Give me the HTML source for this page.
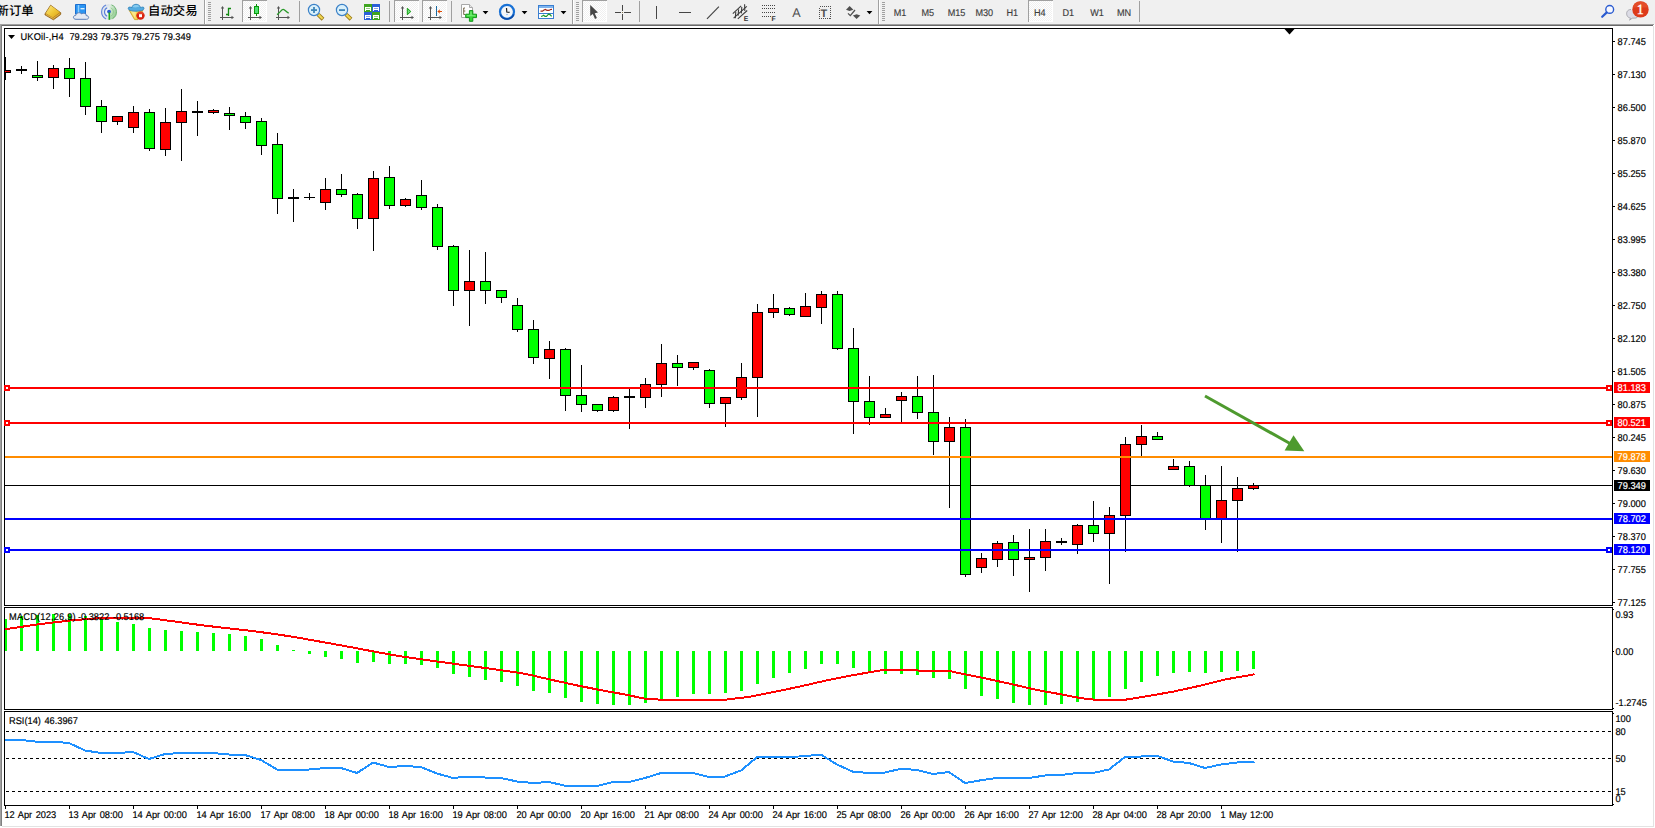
<!DOCTYPE html>
<html lang="zh"><head><meta charset="utf-8"><title>UKOil-,H4</title>
<style>html,body{margin:0;padding:0;background:#fff;overflow:hidden}body{width:1655px;height:828px;position:relative;font-family:"Liberation Sans","Noto Sans CJK SC",sans-serif}svg{position:absolute;left:0;top:0;display:block}text{font-family:"Liberation Sans","Noto Sans CJK SC",sans-serif;text-rendering:geometricPrecision}.t{font-size:9.8px;fill:#000;stroke:#000;stroke-width:.18px;word-spacing:1px}.w{font-size:9.8px;fill:#fff;stroke:#fff;stroke-width:.18px}.tf{font-size:9.8px;fill:#3c3c3c;stroke:#3c3c3c;stroke-width:.15px}.cj{font-size:12.4px;fill:#000;font-weight:500}</style>
</head><body>
<svg width="1655" height="828" viewBox="0 0 1655 828">
<rect x="0" y="0" width="1655" height="828" fill="#fff"/>
<g shape-rendering="crispEdges">
<rect x="0" y="0" width="1655" height="24" fill="#f0f0f0"/>
<rect x="0" y="24" width="1654" height="1" fill="#a0a0a0"/>
<rect x="0" y="25" width="1653" height="1" fill="#696969"/>
<rect x="0" y="24" width="1" height="802" fill="#a0a0a0"/>
<rect x="1" y="25" width="1" height="801" fill="#808080"/>
<rect x="1653" y="26" width="1" height="800" fill="#e3e3e3"/>
<rect x="2" y="826" width="1652" height="1" fill="#e3e3e3"/>
<rect x="4.5" y="28.5" width="1608" height="577" fill="none" stroke="#000" stroke-width="1"/>
<rect x="4.5" y="607.5" width="1608" height="102" fill="none" stroke="#000" stroke-width="1"/>
<rect x="4.5" y="711.5" width="1608" height="94" fill="none" stroke="#000" stroke-width="1"/>
<rect x="5" y="485" width="1607" height="1" fill="#000"/>
</g>
<g shape-rendering="crispEdges">
<rect x="5" y="57" width="1" height="23" fill="#000"/>
<rect x="5" y="70" width="6" height="3" fill="#000"/>
<rect x="5" y="71" width="5" height="1" fill="#ff0000"/>
<rect x="21" y="66" width="1" height="8" fill="#000"/>
<rect x="16" y="69" width="11" height="2" fill="#000"/>
<rect x="37" y="61" width="1" height="20" fill="#000"/>
<rect x="32" y="75" width="11" height="3" fill="#000"/>
<rect x="33" y="76" width="9" height="1" fill="#00ff00"/>
<rect x="53" y="65" width="1" height="24" fill="#000"/>
<rect x="48" y="68" width="11" height="10" fill="#000"/>
<rect x="49" y="69" width="9" height="8" fill="#ff0000"/>
<rect x="69" y="58" width="1" height="39" fill="#000"/>
<rect x="64" y="68" width="11" height="11" fill="#000"/>
<rect x="65" y="69" width="9" height="9" fill="#00ff00"/>
<rect x="85" y="62" width="1" height="53" fill="#000"/>
<rect x="80" y="78" width="11" height="29" fill="#000"/>
<rect x="81" y="79" width="9" height="27" fill="#00ff00"/>
<rect x="101" y="100" width="1" height="33" fill="#000"/>
<rect x="96" y="106" width="11" height="16" fill="#000"/>
<rect x="97" y="107" width="9" height="14" fill="#00ff00"/>
<rect x="117" y="116" width="1" height="9" fill="#000"/>
<rect x="112" y="116" width="11" height="6" fill="#000"/>
<rect x="113" y="117" width="9" height="4" fill="#ff0000"/>
<rect x="133" y="106" width="1" height="27" fill="#000"/>
<rect x="128" y="112" width="11" height="16" fill="#000"/>
<rect x="129" y="113" width="9" height="14" fill="#ff0000"/>
<rect x="149" y="109" width="1" height="42" fill="#000"/>
<rect x="144" y="112" width="11" height="37" fill="#000"/>
<rect x="145" y="113" width="9" height="35" fill="#00ff00"/>
<rect x="165" y="108" width="1" height="48" fill="#000"/>
<rect x="160" y="122" width="11" height="28" fill="#000"/>
<rect x="161" y="123" width="9" height="26" fill="#ff0000"/>
<rect x="181" y="89" width="1" height="72" fill="#000"/>
<rect x="176" y="111" width="11" height="12" fill="#000"/>
<rect x="177" y="112" width="9" height="10" fill="#ff0000"/>
<rect x="197" y="101" width="1" height="35" fill="#000"/>
<rect x="192" y="111" width="11" height="2" fill="#000"/>
<rect x="213" y="109" width="1" height="5" fill="#000"/>
<rect x="208" y="110" width="11" height="3" fill="#000"/>
<rect x="209" y="111" width="9" height="1" fill="#ff0000"/>
<rect x="229" y="107" width="1" height="23" fill="#000"/>
<rect x="224" y="113" width="11" height="3" fill="#000"/>
<rect x="225" y="114" width="9" height="1" fill="#00ff00"/>
<rect x="245" y="112" width="1" height="17" fill="#000"/>
<rect x="240" y="116" width="11" height="7" fill="#000"/>
<rect x="241" y="117" width="9" height="5" fill="#00ff00"/>
<rect x="261" y="118" width="1" height="37" fill="#000"/>
<rect x="256" y="121" width="11" height="25" fill="#000"/>
<rect x="257" y="122" width="9" height="23" fill="#00ff00"/>
<rect x="277" y="133" width="1" height="81" fill="#000"/>
<rect x="272" y="144" width="11" height="55" fill="#000"/>
<rect x="273" y="145" width="9" height="53" fill="#00ff00"/>
<rect x="293" y="189" width="1" height="33" fill="#000"/>
<rect x="288" y="197" width="11" height="2" fill="#000"/>
<rect x="309" y="193" width="1" height="7" fill="#000"/>
<rect x="304" y="197" width="11" height="1" fill="#000"/>
<rect x="325" y="178" width="1" height="32" fill="#000"/>
<rect x="320" y="189" width="11" height="14" fill="#000"/>
<rect x="321" y="190" width="9" height="12" fill="#ff0000"/>
<rect x="341" y="174" width="1" height="23" fill="#000"/>
<rect x="336" y="189" width="11" height="6" fill="#000"/>
<rect x="337" y="190" width="9" height="4" fill="#00ff00"/>
<rect x="357" y="193" width="1" height="36" fill="#000"/>
<rect x="352" y="194" width="11" height="25" fill="#000"/>
<rect x="353" y="195" width="9" height="23" fill="#00ff00"/>
<rect x="373" y="171" width="1" height="80" fill="#000"/>
<rect x="368" y="178" width="11" height="41" fill="#000"/>
<rect x="369" y="179" width="9" height="39" fill="#ff0000"/>
<rect x="389" y="166" width="1" height="43" fill="#000"/>
<rect x="384" y="177" width="11" height="29" fill="#000"/>
<rect x="385" y="178" width="9" height="27" fill="#00ff00"/>
<rect x="405" y="198" width="1" height="9" fill="#000"/>
<rect x="400" y="199" width="11" height="7" fill="#000"/>
<rect x="401" y="200" width="9" height="5" fill="#ff0000"/>
<rect x="421" y="180" width="1" height="30" fill="#000"/>
<rect x="416" y="195" width="11" height="13" fill="#000"/>
<rect x="417" y="196" width="9" height="11" fill="#00ff00"/>
<rect x="437" y="204" width="1" height="46" fill="#000"/>
<rect x="432" y="207" width="11" height="40" fill="#000"/>
<rect x="433" y="208" width="9" height="38" fill="#00ff00"/>
<rect x="453" y="245" width="1" height="61" fill="#000"/>
<rect x="448" y="246" width="11" height="45" fill="#000"/>
<rect x="449" y="247" width="9" height="43" fill="#00ff00"/>
<rect x="469" y="250" width="1" height="76" fill="#000"/>
<rect x="464" y="281" width="11" height="10" fill="#000"/>
<rect x="465" y="282" width="9" height="8" fill="#ff0000"/>
<rect x="485" y="252" width="1" height="52" fill="#000"/>
<rect x="480" y="281" width="11" height="10" fill="#000"/>
<rect x="481" y="282" width="9" height="8" fill="#00ff00"/>
<rect x="501" y="290" width="1" height="13" fill="#000"/>
<rect x="496" y="290" width="11" height="8" fill="#000"/>
<rect x="497" y="291" width="9" height="6" fill="#00ff00"/>
<rect x="517" y="298" width="1" height="34" fill="#000"/>
<rect x="512" y="305" width="11" height="25" fill="#000"/>
<rect x="513" y="306" width="9" height="23" fill="#00ff00"/>
<rect x="533" y="320" width="1" height="44" fill="#000"/>
<rect x="528" y="329" width="11" height="29" fill="#000"/>
<rect x="529" y="330" width="9" height="27" fill="#00ff00"/>
<rect x="549" y="341" width="1" height="38" fill="#000"/>
<rect x="544" y="349" width="11" height="10" fill="#000"/>
<rect x="545" y="350" width="9" height="8" fill="#ff0000"/>
<rect x="565" y="348" width="1" height="63" fill="#000"/>
<rect x="560" y="349" width="11" height="47" fill="#000"/>
<rect x="561" y="350" width="9" height="45" fill="#00ff00"/>
<rect x="581" y="365" width="1" height="47" fill="#000"/>
<rect x="576" y="395" width="11" height="10" fill="#000"/>
<rect x="577" y="396" width="9" height="8" fill="#00ff00"/>
<rect x="597" y="404" width="1" height="8" fill="#000"/>
<rect x="592" y="404" width="11" height="7" fill="#000"/>
<rect x="593" y="405" width="9" height="5" fill="#00ff00"/>
<rect x="613" y="396" width="1" height="16" fill="#000"/>
<rect x="608" y="397" width="11" height="14" fill="#000"/>
<rect x="609" y="398" width="9" height="12" fill="#ff0000"/>
<rect x="629" y="389" width="1" height="40" fill="#000"/>
<rect x="624" y="396" width="11" height="2" fill="#000"/>
<rect x="645" y="378" width="1" height="30" fill="#000"/>
<rect x="640" y="384" width="11" height="14" fill="#000"/>
<rect x="641" y="385" width="9" height="12" fill="#ff0000"/>
<rect x="661" y="344" width="1" height="53" fill="#000"/>
<rect x="656" y="363" width="11" height="22" fill="#000"/>
<rect x="657" y="364" width="9" height="20" fill="#ff0000"/>
<rect x="677" y="355" width="1" height="31" fill="#000"/>
<rect x="672" y="363" width="11" height="5" fill="#000"/>
<rect x="673" y="364" width="9" height="3" fill="#00ff00"/>
<rect x="693" y="362" width="1" height="8" fill="#000"/>
<rect x="688" y="362" width="11" height="6" fill="#000"/>
<rect x="689" y="363" width="9" height="4" fill="#ff0000"/>
<rect x="709" y="369" width="1" height="39" fill="#000"/>
<rect x="704" y="370" width="11" height="34" fill="#000"/>
<rect x="705" y="371" width="9" height="32" fill="#00ff00"/>
<rect x="725" y="397" width="1" height="30" fill="#000"/>
<rect x="720" y="397" width="11" height="7" fill="#000"/>
<rect x="721" y="398" width="9" height="5" fill="#ff0000"/>
<rect x="741" y="363" width="1" height="37" fill="#000"/>
<rect x="736" y="377" width="11" height="21" fill="#000"/>
<rect x="737" y="378" width="9" height="19" fill="#ff0000"/>
<rect x="757" y="304" width="1" height="113" fill="#000"/>
<rect x="752" y="312" width="11" height="66" fill="#000"/>
<rect x="753" y="313" width="9" height="64" fill="#ff0000"/>
<rect x="773" y="294" width="1" height="24" fill="#000"/>
<rect x="768" y="308" width="11" height="5" fill="#000"/>
<rect x="769" y="309" width="9" height="3" fill="#ff0000"/>
<rect x="789" y="307" width="1" height="9" fill="#000"/>
<rect x="784" y="308" width="11" height="7" fill="#000"/>
<rect x="785" y="309" width="9" height="5" fill="#00ff00"/>
<rect x="805" y="293" width="1" height="24" fill="#000"/>
<rect x="800" y="306" width="11" height="11" fill="#000"/>
<rect x="801" y="307" width="9" height="9" fill="#ff0000"/>
<rect x="821" y="291" width="1" height="33" fill="#000"/>
<rect x="816" y="294" width="11" height="14" fill="#000"/>
<rect x="817" y="295" width="9" height="12" fill="#ff0000"/>
<rect x="837" y="291" width="1" height="59" fill="#000"/>
<rect x="832" y="294" width="11" height="55" fill="#000"/>
<rect x="833" y="295" width="9" height="53" fill="#00ff00"/>
<rect x="853" y="328" width="1" height="106" fill="#000"/>
<rect x="848" y="348" width="11" height="54" fill="#000"/>
<rect x="849" y="349" width="9" height="52" fill="#00ff00"/>
<rect x="869" y="376" width="1" height="49" fill="#000"/>
<rect x="864" y="401" width="11" height="17" fill="#000"/>
<rect x="865" y="402" width="9" height="15" fill="#00ff00"/>
<rect x="885" y="408" width="1" height="10" fill="#000"/>
<rect x="880" y="414" width="11" height="4" fill="#000"/>
<rect x="881" y="415" width="9" height="2" fill="#ff0000"/>
<rect x="901" y="392" width="1" height="30" fill="#000"/>
<rect x="896" y="396" width="11" height="5" fill="#000"/>
<rect x="897" y="397" width="9" height="3" fill="#ff0000"/>
<rect x="917" y="376" width="1" height="43" fill="#000"/>
<rect x="912" y="396" width="11" height="17" fill="#000"/>
<rect x="913" y="397" width="9" height="15" fill="#00ff00"/>
<rect x="933" y="375" width="1" height="80" fill="#000"/>
<rect x="928" y="412" width="11" height="30" fill="#000"/>
<rect x="929" y="413" width="9" height="28" fill="#00ff00"/>
<rect x="949" y="417" width="1" height="91" fill="#000"/>
<rect x="944" y="427" width="11" height="15" fill="#000"/>
<rect x="945" y="428" width="9" height="13" fill="#ff0000"/>
<rect x="965" y="419" width="1" height="158" fill="#000"/>
<rect x="960" y="427" width="11" height="148" fill="#000"/>
<rect x="961" y="428" width="9" height="146" fill="#00ff00"/>
<rect x="981" y="553" width="1" height="20" fill="#000"/>
<rect x="976" y="558" width="11" height="10" fill="#000"/>
<rect x="977" y="559" width="9" height="8" fill="#ff0000"/>
<rect x="997" y="541" width="1" height="26" fill="#000"/>
<rect x="992" y="543" width="11" height="17" fill="#000"/>
<rect x="993" y="544" width="9" height="15" fill="#ff0000"/>
<rect x="1013" y="535" width="1" height="41" fill="#000"/>
<rect x="1008" y="542" width="11" height="18" fill="#000"/>
<rect x="1009" y="543" width="9" height="16" fill="#00ff00"/>
<rect x="1029" y="529" width="1" height="63" fill="#000"/>
<rect x="1024" y="557" width="11" height="3" fill="#000"/>
<rect x="1025" y="558" width="9" height="1" fill="#ff0000"/>
<rect x="1045" y="529" width="1" height="42" fill="#000"/>
<rect x="1040" y="541" width="11" height="17" fill="#000"/>
<rect x="1041" y="542" width="9" height="15" fill="#ff0000"/>
<rect x="1061" y="538" width="1" height="7" fill="#000"/>
<rect x="1056" y="541" width="11" height="2" fill="#000"/>
<rect x="1077" y="524" width="1" height="30" fill="#000"/>
<rect x="1072" y="525" width="11" height="20" fill="#000"/>
<rect x="1073" y="526" width="9" height="18" fill="#ff0000"/>
<rect x="1093" y="501" width="1" height="41" fill="#000"/>
<rect x="1088" y="525" width="11" height="9" fill="#000"/>
<rect x="1089" y="526" width="9" height="7" fill="#00ff00"/>
<rect x="1109" y="507" width="1" height="77" fill="#000"/>
<rect x="1104" y="515" width="11" height="19" fill="#000"/>
<rect x="1105" y="516" width="9" height="17" fill="#ff0000"/>
<rect x="1125" y="437" width="1" height="115" fill="#000"/>
<rect x="1120" y="444" width="11" height="72" fill="#000"/>
<rect x="1121" y="445" width="9" height="70" fill="#ff0000"/>
<rect x="1141" y="425" width="1" height="31" fill="#000"/>
<rect x="1136" y="436" width="11" height="9" fill="#000"/>
<rect x="1137" y="437" width="9" height="7" fill="#ff0000"/>
<rect x="1157" y="432" width="1" height="8" fill="#000"/>
<rect x="1152" y="436" width="11" height="4" fill="#000"/>
<rect x="1153" y="437" width="9" height="2" fill="#00ff00"/>
<rect x="1173" y="459" width="1" height="11" fill="#000"/>
<rect x="1168" y="466" width="11" height="4" fill="#000"/>
<rect x="1169" y="467" width="9" height="2" fill="#ff0000"/>
<rect x="1189" y="461" width="1" height="26" fill="#000"/>
<rect x="1184" y="466" width="11" height="20" fill="#000"/>
<rect x="1185" y="467" width="9" height="18" fill="#00ff00"/>
<rect x="1205" y="475" width="1" height="55" fill="#000"/>
<rect x="1200" y="485" width="11" height="34" fill="#000"/>
<rect x="1201" y="486" width="9" height="32" fill="#00ff00"/>
<rect x="1221" y="466" width="1" height="77" fill="#000"/>
<rect x="1216" y="500" width="11" height="19" fill="#000"/>
<rect x="1217" y="501" width="9" height="17" fill="#ff0000"/>
<rect x="1237" y="477" width="1" height="75" fill="#000"/>
<rect x="1232" y="488" width="11" height="13" fill="#000"/>
<rect x="1233" y="489" width="9" height="11" fill="#ff0000"/>
<rect x="1253" y="483" width="1" height="7" fill="#000"/>
<rect x="1248" y="485" width="11" height="4" fill="#000"/>
<rect x="1249" y="486" width="9" height="2" fill="#ff0000"/>
</g>
<g shape-rendering="crispEdges">
<rect x="5" y="387" width="1607" height="2" fill="#ff0000"/>
<rect x="4" y="385" width="6" height="6" fill="#ff0000"/><rect x="6" y="387" width="2" height="2" fill="#fff"/>
<rect x="1606" y="385" width="6" height="6" fill="#ff0000"/><rect x="1608" y="387" width="2" height="2" fill="#fff"/>
<rect x="5" y="422" width="1607" height="2" fill="#ff0000"/>
<rect x="4" y="420" width="6" height="6" fill="#ff0000"/><rect x="6" y="422" width="2" height="2" fill="#fff"/>
<rect x="1606" y="420" width="6" height="6" fill="#ff0000"/><rect x="1608" y="422" width="2" height="2" fill="#fff"/>
<rect x="5" y="456" width="1607" height="2" fill="#ff8c00"/>
<rect x="5" y="518" width="1607" height="2" fill="#0000ff"/>
<rect x="5" y="549" width="1607" height="2" fill="#0000ff"/>
<rect x="4" y="547" width="6" height="6" fill="#0000ff"/><rect x="6" y="549" width="2" height="2" fill="#fff"/>
<rect x="1606" y="547" width="6" height="6" fill="#0000ff"/><rect x="1608" y="549" width="2" height="2" fill="#fff"/>
</g>
<line x1="1205" y1="396" x2="1290" y2="443.5" stroke="#4e9a2e" stroke-width="3"/>
<polygon points="1293.5,435.3 1284.6,450.5 1304.3,451.2" fill="#4e9a2e"/>
<polygon points="1284.5,29 1294.5,29 1289.5,34.5" fill="#000"/>
<g shape-rendering="crispEdges">
<rect x="1613" y="41" width="2" height="1" fill="#000"/>
<rect x="1613" y="74" width="2" height="1" fill="#000"/>
<rect x="1613" y="107" width="2" height="1" fill="#000"/>
<rect x="1613" y="140" width="2" height="1" fill="#000"/>
<rect x="1613" y="173" width="2" height="1" fill="#000"/>
<rect x="1613" y="206" width="2" height="1" fill="#000"/>
<rect x="1613" y="239" width="2" height="1" fill="#000"/>
<rect x="1613" y="272" width="2" height="1" fill="#000"/>
<rect x="1613" y="305" width="2" height="1" fill="#000"/>
<rect x="1613" y="338" width="2" height="1" fill="#000"/>
<rect x="1613" y="371" width="2" height="1" fill="#000"/>
<rect x="1613" y="404" width="2" height="1" fill="#000"/>
<rect x="1613" y="437" width="2" height="1" fill="#000"/>
<rect x="1613" y="470" width="2" height="1" fill="#000"/>
<rect x="1613" y="503" width="2" height="1" fill="#000"/>
<rect x="1613" y="536" width="2" height="1" fill="#000"/>
<rect x="1613" y="569" width="2" height="1" fill="#000"/>
<rect x="1613" y="602" width="2" height="1" fill="#000"/>
<rect x="1613" y="609" width="1" height="1" fill="#000"/>
<rect x="1613" y="651" width="1" height="1" fill="#000"/>
<rect x="1613" y="708" width="1" height="1" fill="#000"/>
<rect x="1613" y="713" width="1" height="1" fill="#000"/>
<rect x="1613" y="804" width="1" height="1" fill="#000"/>
</g>
<text class="t" transform="translate(1617.6 44.9) scale(0.945 1)">87.745</text>
<text class="t" transform="translate(1617.6 77.9) scale(0.945 1)">87.130</text>
<text class="t" transform="translate(1617.6 110.9) scale(0.945 1)">86.500</text>
<text class="t" transform="translate(1617.6 143.9) scale(0.945 1)">85.870</text>
<text class="t" transform="translate(1617.6 176.9) scale(0.945 1)">85.255</text>
<text class="t" transform="translate(1617.6 209.9) scale(0.945 1)">84.625</text>
<text class="t" transform="translate(1617.6 242.9) scale(0.945 1)">83.995</text>
<text class="t" transform="translate(1617.6 275.9) scale(0.945 1)">83.380</text>
<text class="t" transform="translate(1617.6 308.9) scale(0.945 1)">82.750</text>
<text class="t" transform="translate(1617.6 341.9) scale(0.945 1)">82.120</text>
<text class="t" transform="translate(1617.6 374.9) scale(0.945 1)">81.505</text>
<text class="t" transform="translate(1617.6 407.9) scale(0.945 1)">80.875</text>
<text class="t" transform="translate(1617.6 440.9) scale(0.945 1)">80.245</text>
<text class="t" transform="translate(1617.6 473.9) scale(0.945 1)">79.630</text>
<text class="t" transform="translate(1617.6 506.9) scale(0.945 1)">79.000</text>
<text class="t" transform="translate(1617.6 539.9) scale(0.945 1)">78.370</text>
<text class="t" transform="translate(1617.6 572.9) scale(0.945 1)">77.755</text>
<text class="t" transform="translate(1617.6 605.9) scale(0.945 1)">77.125</text>
<rect x="1614" y="382" width="36" height="11" fill="#ff0000" shape-rendering="crispEdges"/>
<text class="w" transform="translate(1617.6 390.9) scale(0.945 1)">81.183</text>
<rect x="1614" y="417" width="36" height="11" fill="#ff0000" shape-rendering="crispEdges"/>
<text class="w" transform="translate(1617.6 425.9) scale(0.945 1)">80.521</text>
<rect x="1614" y="451" width="36" height="11" fill="#ff8c00" shape-rendering="crispEdges"/>
<text class="w" transform="translate(1617.6 459.9) scale(0.945 1)">79.878</text>
<rect x="1614" y="480" width="36" height="11" fill="#000000" shape-rendering="crispEdges"/>
<text class="w" transform="translate(1617.6 488.9) scale(0.945 1)">79.349</text>
<rect x="1614" y="513" width="36" height="11" fill="#0000ff" shape-rendering="crispEdges"/>
<text class="w" transform="translate(1617.6 521.9) scale(0.945 1)">78.702</text>
<rect x="1614" y="544" width="36" height="11" fill="#0000ff" shape-rendering="crispEdges"/>
<text class="w" transform="translate(1617.6 552.9) scale(0.945 1)">78.120</text>
<text class="t" transform="translate(1615.4 618) scale(0.945 1)">0.93</text>
<text class="t" transform="translate(1615.4 655) scale(0.945 1)">0.00</text>
<text class="t" transform="translate(1615.4 706) scale(0.945 1)">-1.2745</text>
<text class="t" transform="translate(1615.4 722) scale(0.945 1)">100</text>
<text class="t" transform="translate(1615.4 735) scale(0.945 1)">80</text>
<text class="t" transform="translate(1615.4 762) scale(0.945 1)">50</text>
<text class="t" transform="translate(1615.4 795) scale(0.945 1)">15</text>
<text class="t" transform="translate(1615.4 802) scale(0.945 1)">0</text>
<g shape-rendering="crispEdges" fill="#00ff00">
<rect x="5" y="619" width="2" height="32"/>
<rect x="20" y="616" width="3" height="35"/>
<rect x="36" y="615" width="3" height="36"/>
<rect x="52" y="614" width="3" height="37"/>
<rect x="68" y="614" width="3" height="37"/>
<rect x="84" y="616" width="3" height="35"/>
<rect x="100" y="619" width="3" height="32"/>
<rect x="116" y="622" width="3" height="29"/>
<rect x="132" y="624" width="3" height="27"/>
<rect x="148" y="628" width="3" height="23"/>
<rect x="164" y="630" width="3" height="21"/>
<rect x="180" y="631" width="3" height="20"/>
<rect x="196" y="632" width="3" height="19"/>
<rect x="212" y="633" width="3" height="18"/>
<rect x="228" y="634" width="3" height="17"/>
<rect x="244" y="636" width="3" height="15"/>
<rect x="260" y="639" width="3" height="12"/>
<rect x="276" y="645" width="3" height="6"/>
<rect x="292" y="650" width="3" height="1"/>
<rect x="308" y="651" width="3" height="3"/>
<rect x="324" y="651" width="3" height="6"/>
<rect x="340" y="651" width="3" height="8"/>
<rect x="356" y="651" width="3" height="12"/>
<rect x="372" y="651" width="3" height="11"/>
<rect x="388" y="651" width="3" height="13"/>
<rect x="404" y="651" width="3" height="13"/>
<rect x="420" y="651" width="3" height="14"/>
<rect x="436" y="651" width="3" height="17"/>
<rect x="452" y="651" width="3" height="23"/>
<rect x="468" y="651" width="3" height="26"/>
<rect x="484" y="651" width="3" height="29"/>
<rect x="500" y="651" width="3" height="31"/>
<rect x="516" y="651" width="3" height="35"/>
<rect x="532" y="651" width="3" height="40"/>
<rect x="548" y="651" width="3" height="42"/>
<rect x="564" y="651" width="3" height="47"/>
<rect x="580" y="651" width="3" height="51"/>
<rect x="596" y="651" width="3" height="53"/>
<rect x="612" y="651" width="3" height="54"/>
<rect x="628" y="651" width="3" height="54"/>
<rect x="644" y="651" width="3" height="52"/>
<rect x="660" y="651" width="3" height="49"/>
<rect x="676" y="651" width="3" height="46"/>
<rect x="692" y="651" width="3" height="43"/>
<rect x="708" y="651" width="3" height="43"/>
<rect x="724" y="651" width="3" height="42"/>
<rect x="740" y="651" width="3" height="40"/>
<rect x="756" y="651" width="3" height="33"/>
<rect x="772" y="651" width="3" height="27"/>
<rect x="788" y="651" width="3" height="22"/>
<rect x="804" y="651" width="3" height="18"/>
<rect x="820" y="651" width="3" height="13"/>
<rect x="836" y="651" width="3" height="13"/>
<rect x="852" y="651" width="3" height="17"/>
<rect x="868" y="651" width="3" height="20"/>
<rect x="884" y="651" width="3" height="23"/>
<rect x="900" y="651" width="3" height="23"/>
<rect x="916" y="651" width="3" height="24"/>
<rect x="932" y="651" width="3" height="27"/>
<rect x="948" y="651" width="3" height="28"/>
<rect x="964" y="651" width="3" height="38"/>
<rect x="980" y="651" width="3" height="45"/>
<rect x="996" y="651" width="3" height="48"/>
<rect x="1012" y="651" width="3" height="52"/>
<rect x="1028" y="651" width="3" height="54"/>
<rect x="1044" y="651" width="3" height="54"/>
<rect x="1060" y="651" width="3" height="53"/>
<rect x="1076" y="651" width="3" height="51"/>
<rect x="1092" y="651" width="3" height="49"/>
<rect x="1108" y="651" width="3" height="46"/>
<rect x="1124" y="651" width="3" height="38"/>
<rect x="1140" y="651" width="3" height="31"/>
<rect x="1156" y="651" width="3" height="25"/>
<rect x="1172" y="651" width="3" height="22"/>
<rect x="1188" y="651" width="3" height="21"/>
<rect x="1204" y="651" width="3" height="22"/>
<rect x="1220" y="651" width="3" height="21"/>
<rect x="1236" y="651" width="3" height="20"/>
<rect x="1252" y="651" width="3" height="18"/>
</g>
<polyline shape-rendering="crispEdges" fill="none" stroke="#ff0000" stroke-width="2" stroke-linejoin="round" points="5,629.25 37,624.5 70,620.5 100,618.1 112,617.6 138,617.6 148,618 175,621.5 200,625 225,628 250,630.75 275,634 300,638 325,642.5 350,647 375,651.75 400,656.25 412,658 450,663.25 500,670 525,673.75 550,679.5 575,685 600,690 625,694.5 645,698.75 662,699.75 725,699.75 750,696.75 775,691.75 800,686.5 825,680.75 850,675.75 875,671.25 887,669.6 915,669.6 918,670.5 947,670.5 962,673.75 987,678.75 1012,684.25 1037,690 1062,694.5 1080,698 1095,699.75 1125,699.75 1150,695.75 1175,691.25 1200,685.75 1225,679.5 1254.5,674.3"/>
<g shape-rendering="crispEdges" stroke="#000" stroke-width="1" stroke-dasharray="3 3">
<line x1="6" y1="731.5" x2="1611" y2="731.5"/>
<line x1="6" y1="758.5" x2="1611" y2="758.5"/>
<line x1="6" y1="791.5" x2="1611" y2="791.5"/>
</g>
<polyline shape-rendering="crispEdges" fill="none" stroke="#1e90ff" stroke-width="2" stroke-linejoin="round" points="5,740 21,740 37,741.75 53,741.75 69,743 85,750.5 101,753 117,753 133,752 149,759 165,754 181,753 197,753 213,753 229,754.5 245,755 261,760 277,769.5 293,769.5 309,769.5 325,768 341,768 357,773 373,762.5 389,767 405,766 421,767 437,773.5 453,778 469,776.5 485,777.5 501,778 517,781.5 533,783 549,782 565,785.75 581,786 597,786 613,782 629,782 645,778 661,773 677,773 693,773 709,777 725,776.5 741,770.5 757,757.25 773,757.25 789,757.25 805,756 821,754.75 837,764.5 853,771.75 869,773 885,772.5 901,768.75 917,770 933,774 949,772 965,783 981,780.25 997,778 1013,778 1029,778 1045,775.5 1061,775 1077,773 1093,773 1109,769.5 1125,757 1141,756.5 1157,755.75 1173,761.5 1189,763 1205,768 1221,764.5 1237,762.5 1254.5,761.75"/>
<polygon points="8,35 15,35 11.5,39" fill="#000"/>
<text class="t" transform="translate(20.5 39.6) scale(0.945 1)" xml:space="preserve" style="white-space:pre;word-spacing:.15px"><tspan letter-spacing=".18">UKOil-,H4</tspan><tspan dx="0.3">  79.293 79.375 79.275 79.349</tspan></text>
<text class="t" transform="translate(9 619.8) scale(0.945 1)"><tspan letter-spacing=".2">MACD(12,26,9)</tspan><tspan dx="-1.5"> -0.3822 -0.5168</tspan></text>
<text class="t" transform="translate(9 723.8) scale(0.945 1)">RSI(14) 46.3967</text>
<g shape-rendering="crispEdges">
<rect x="5" y="806" width="1" height="3" fill="#000"/>
<rect x="69" y="806" width="1" height="3" fill="#000"/>
<rect x="133" y="806" width="1" height="3" fill="#000"/>
<rect x="197" y="806" width="1" height="3" fill="#000"/>
<rect x="261" y="806" width="1" height="3" fill="#000"/>
<rect x="325" y="806" width="1" height="3" fill="#000"/>
<rect x="389" y="806" width="1" height="3" fill="#000"/>
<rect x="453" y="806" width="1" height="3" fill="#000"/>
<rect x="517" y="806" width="1" height="3" fill="#000"/>
<rect x="581" y="806" width="1" height="3" fill="#000"/>
<rect x="645" y="806" width="1" height="3" fill="#000"/>
<rect x="709" y="806" width="1" height="3" fill="#000"/>
<rect x="773" y="806" width="1" height="3" fill="#000"/>
<rect x="837" y="806" width="1" height="3" fill="#000"/>
<rect x="901" y="806" width="1" height="3" fill="#000"/>
<rect x="965" y="806" width="1" height="3" fill="#000"/>
<rect x="1029" y="806" width="1" height="3" fill="#000"/>
<rect x="1093" y="806" width="1" height="3" fill="#000"/>
<rect x="1157" y="806" width="1" height="3" fill="#000"/>
<rect x="1221" y="806" width="1" height="3" fill="#000"/>
</g>
<text class="t" transform="translate(4.4 818) scale(0.945 1)">12 Apr 2023</text>
<text class="t" transform="translate(68.4 818) scale(0.945 1)">13 Apr 08:00</text>
<text class="t" transform="translate(132.4 818) scale(0.945 1)">14 Apr 00:00</text>
<text class="t" transform="translate(196.4 818) scale(0.945 1)">14 Apr 16:00</text>
<text class="t" transform="translate(260.4 818) scale(0.945 1)">17 Apr 08:00</text>
<text class="t" transform="translate(324.4 818) scale(0.945 1)">18 Apr 00:00</text>
<text class="t" transform="translate(388.4 818) scale(0.945 1)">18 Apr 16:00</text>
<text class="t" transform="translate(452.4 818) scale(0.945 1)">19 Apr 08:00</text>
<text class="t" transform="translate(516.4 818) scale(0.945 1)">20 Apr 00:00</text>
<text class="t" transform="translate(580.4 818) scale(0.945 1)">20 Apr 16:00</text>
<text class="t" transform="translate(644.4 818) scale(0.945 1)">21 Apr 08:00</text>
<text class="t" transform="translate(708.4 818) scale(0.945 1)">24 Apr 00:00</text>
<text class="t" transform="translate(772.4 818) scale(0.945 1)">24 Apr 16:00</text>
<text class="t" transform="translate(836.4 818) scale(0.945 1)">25 Apr 08:00</text>
<text class="t" transform="translate(900.4 818) scale(0.945 1)">26 Apr 00:00</text>
<text class="t" transform="translate(964.4 818) scale(0.945 1)">26 Apr 16:00</text>
<text class="t" transform="translate(1028.4 818) scale(0.945 1)">27 Apr 12:00</text>
<text class="t" transform="translate(1092.4 818) scale(0.945 1)">28 Apr 04:00</text>
<text class="t" transform="translate(1156.4 818) scale(0.945 1)">28 Apr 20:00</text>
<text class="t" transform="translate(1220.4 818) scale(0.945 1)">1 May 12:00</text>
<g id="toolbar">
<defs><pattern id="chk" width="2" height="2" patternUnits="userSpaceOnUse"><rect width="2" height="2" fill="#fff"/><rect width="1" height="1" fill="#f0f0f0"/><rect x="1" y="1" width="1" height="1" fill="#f0f0f0"/></pattern></defs>
<g shape-rendering="crispEdges">
<rect x="204" y="0" width="1" height="24" fill="#a0a0a0"/><rect x="205" y="0" width="1" height="24" fill="#fff"/>
<rect x="572" y="0" width="1" height="24" fill="#a0a0a0"/><rect x="573" y="0" width="1" height="24" fill="#fff"/>
<rect x="878" y="0" width="1" height="24" fill="#a0a0a0"/><rect x="879" y="0" width="1" height="24" fill="#fff"/>
<rect x="208" y="2" width="3" height="1" fill="#a0a0a0"/>
<rect x="208" y="4" width="3" height="1" fill="#a0a0a0"/>
<rect x="208" y="6" width="3" height="1" fill="#a0a0a0"/>
<rect x="208" y="8" width="3" height="1" fill="#a0a0a0"/>
<rect x="208" y="10" width="3" height="1" fill="#a0a0a0"/>
<rect x="208" y="12" width="3" height="1" fill="#a0a0a0"/>
<rect x="208" y="14" width="3" height="1" fill="#a0a0a0"/>
<rect x="208" y="16" width="3" height="1" fill="#a0a0a0"/>
<rect x="208" y="18" width="3" height="1" fill="#a0a0a0"/>
<rect x="208" y="20" width="3" height="1" fill="#a0a0a0"/>
<rect x="576" y="2" width="3" height="1" fill="#a0a0a0"/>
<rect x="576" y="4" width="3" height="1" fill="#a0a0a0"/>
<rect x="576" y="6" width="3" height="1" fill="#a0a0a0"/>
<rect x="576" y="8" width="3" height="1" fill="#a0a0a0"/>
<rect x="576" y="10" width="3" height="1" fill="#a0a0a0"/>
<rect x="576" y="12" width="3" height="1" fill="#a0a0a0"/>
<rect x="576" y="14" width="3" height="1" fill="#a0a0a0"/>
<rect x="576" y="16" width="3" height="1" fill="#a0a0a0"/>
<rect x="576" y="18" width="3" height="1" fill="#a0a0a0"/>
<rect x="576" y="20" width="3" height="1" fill="#a0a0a0"/>
<rect x="882" y="2" width="3" height="1" fill="#a0a0a0"/>
<rect x="882" y="4" width="3" height="1" fill="#a0a0a0"/>
<rect x="882" y="6" width="3" height="1" fill="#a0a0a0"/>
<rect x="882" y="8" width="3" height="1" fill="#a0a0a0"/>
<rect x="882" y="10" width="3" height="1" fill="#a0a0a0"/>
<rect x="882" y="12" width="3" height="1" fill="#a0a0a0"/>
<rect x="882" y="14" width="3" height="1" fill="#a0a0a0"/>
<rect x="882" y="16" width="3" height="1" fill="#a0a0a0"/>
<rect x="882" y="18" width="3" height="1" fill="#a0a0a0"/>
<rect x="882" y="20" width="3" height="1" fill="#a0a0a0"/>
<rect x="299" y="1" width="1" height="21" fill="#a0a0a0"/>
<rect x="389" y="1" width="1" height="21" fill="#a0a0a0"/>
<rect x="451" y="1" width="1" height="21" fill="#a0a0a0"/>
<rect x="639" y="1" width="1" height="21" fill="#a0a0a0"/>
<rect x="1139" y="1" width="1" height="21" fill="#a0a0a0"/>
<rect x="242" y="0" width="25" height="22" fill="url(#chk)"/>
<rect x="242" y="0" width="25" height="1" fill="#a0a0a0"/>
<rect x="242" y="0" width="1" height="22" fill="#a0a0a0"/>
<rect x="266" y="1" width="1" height="21" fill="#fff"/>
<rect x="243" y="21" width="24" height="1" fill="#fff"/>
<rect x="394" y="0" width="25" height="22" fill="url(#chk)"/>
<rect x="394" y="0" width="25" height="1" fill="#a0a0a0"/>
<rect x="394" y="0" width="1" height="22" fill="#a0a0a0"/>
<rect x="418" y="1" width="1" height="21" fill="#fff"/>
<rect x="395" y="21" width="24" height="1" fill="#fff"/>
<rect x="422" y="0" width="25" height="22" fill="url(#chk)"/>
<rect x="422" y="0" width="25" height="1" fill="#a0a0a0"/>
<rect x="422" y="0" width="1" height="22" fill="#a0a0a0"/>
<rect x="446" y="1" width="1" height="21" fill="#fff"/>
<rect x="423" y="21" width="24" height="1" fill="#fff"/>
<rect x="582" y="0" width="25" height="22" fill="url(#chk)"/>
<rect x="582" y="0" width="25" height="1" fill="#a0a0a0"/>
<rect x="582" y="0" width="1" height="22" fill="#a0a0a0"/>
<rect x="606" y="1" width="1" height="21" fill="#fff"/>
<rect x="583" y="21" width="24" height="1" fill="#fff"/>
<rect x="1028" y="0" width="25" height="22" fill="url(#chk)"/>
<rect x="1028" y="0" width="25" height="1" fill="#a0a0a0"/>
<rect x="1028" y="0" width="1" height="22" fill="#a0a0a0"/>
<rect x="1052" y="1" width="1" height="21" fill="#fff"/>
<rect x="1029" y="21" width="24" height="1" fill="#fff"/>
</g>
<text class="cj" x="-3.5" y="15.4">新订单</text>
<text class="cj" x="148.1" y="15.4">自动交易</text>
<defs><linearGradient id="gy" x1="0" y1="0" x2="1" y2="1"><stop offset="0" stop-color="#fbe98a"/><stop offset="0.5" stop-color="#f0c93a"/><stop offset="1" stop-color="#dba21a"/></linearGradient></defs>
<path d="M50.6 5.2 L60.8 12.8 L60.6 14.6 L53.4 19.8 L44.9 14.8 L45.3 13.4 Z" fill="#b9801c" stroke="#8f5f12" stroke-width="0.8" stroke-linejoin="round"/>
<path d="M50.7 5.4 L59.9 12.3 L52.9 17.4 L45.8 13.3 Z" fill="url(#gy)"/>
<path d="M46 14.4 L53.2 18.5 L60 13.6" fill="none" stroke="#e9c25a" stroke-width="0.8"/>
<path d="M75.5 4.5 L85.5 4.5 L85.5 14 L75.5 14 Z" fill="#2b95f2" stroke="#1b6fd0" stroke-width="1"/>
<path d="M78.5 5 L78.5 13.5" stroke="#8fd0ff" stroke-width="1.5"/>
<rect x="80.5" y="8" width="4" height="1.4" fill="#d8efff"/>
<path d="M76 19.3 C72.6 19.3 72.6 15.4 75.8 15.3 C76.2 12.4 80.4 11.9 81.6 14 C83.6 12.4 86.4 13.6 86.2 15.6 C89.4 15.6 89.4 19.3 86.4 19.3 Z" fill="#e4e9f3" stroke="#5b7fb8" stroke-width="1" stroke-linejoin="round"/>
<defs><radialGradient id="gs" cx="0.5" cy="0.5" r="0.5"><stop offset="0" stop-color="#ffffff"/><stop offset="0.6" stop-color="#e6edf4"/><stop offset="1" stop-color="#d4dde8"/></radialGradient><linearGradient id="gg" x1="0" y1="0" x2="1" y2="1"><stop offset="0" stop-color="#e9f4e8"/><stop offset="1" stop-color="#6fbf6a"/></linearGradient></defs>
<circle cx="109" cy="12" r="7.8" fill="url(#gs)"/>
<path d="M109.4 12 L109.4 4.3 A7.8 7.8 0 0 1 109.4 19.8 Z" fill="url(#gg)" opacity="0.85"/>
<path d="M106 18.9 A7.6 7.6 0 0 1 106 5.1" fill="none" stroke="#4a72d6" stroke-width="1.1" opacity="0.85"/>
<path d="M107.2 16.2 A4.6 4.6 0 0 1 107.2 7.8" fill="none" stroke="#4a72d6" stroke-width="1.1" opacity="0.9"/>
<path d="M111.5 4.9 A7.6 7.6 0 0 1 112.5 18.7" fill="none" stroke="#58a856" stroke-width="1" opacity="0.8"/>
<path d="M110.8 7.8 A4.6 4.6 0 0 1 110.8 16.2" fill="none" stroke="#8cc88a" stroke-width="1" opacity="0.8"/>
<circle cx="109" cy="11.6" r="1.9" fill="#2a5bd0"/>
<rect x="108.5" y="12.4" width="1.6" height="7.4" fill="#23a523"/>
<path d="M129 10 L143 10 L138 19.6 L134.6 19.6 Z" fill="#f4d64e" stroke="#c99b1c" stroke-width="0.8" stroke-linejoin="round"/>
<path d="M130.5 10.8 L136 10.8 L135.2 18.5 Z" fill="#fbeb9a" opacity="0.8"/>
<path d="M128.2 8.2 C128.6 6.2 131 7.4 132 7.6 C132 3.2 140 3.2 140.4 7.6 C141.6 7.4 143.8 6.2 144 8.2 C144 10.6 140 11.2 136 11.2 C132 11.2 128.2 10.6 128.2 8.2 Z" fill="#55ace0" stroke="#2f7fb8" stroke-width="0.8" stroke-linejoin="round"/>
<path d="M132.6 7 C133 4.6 138.8 4.4 139.6 6.6 C137.5 7.6 134.5 7.6 132.6 7 Z" fill="#8fd0f2" opacity="0.85"/>
<circle cx="140.5" cy="15.6" r="4.2" fill="#d9230f"/>
<path d="M136.7 14.2 A4.2 4.2 0 0 1 144.3 14.2 Z" fill="#ef5a3a" opacity="0.6"/>
<rect x="139" y="14.2" width="3" height="3" fill="#fff"/>
<g shape-rendering="crispEdges" fill="#555">
<rect x="222" y="7" width="1" height="13"/>
<rect x="220" y="17" width="13" height="1"/>
</g>
<path d="M222.5 6 L220.8 8.5 L224.2 8.5 Z" fill="#555"/>
<path d="M234 17.5 L231.5 15.8 L231.5 19.2 Z" fill="#555"/>
<path d="M231 8.5 L228.5 8.5 L228.5 14.5 L226 14.5 M228.5 14.5 L228.5 16" fill="none" stroke="#128a12" stroke-width="1.3"/>
<g shape-rendering="crispEdges" fill="#555">
<rect x="250" y="7" width="1" height="13"/>
<rect x="248" y="17" width="13" height="1"/>
</g>
<path d="M250.5 6 L248.8 8.5 L252.2 8.5 Z" fill="#555"/>
<path d="M262 17.5 L259.5 15.8 L259.5 19.2 Z" fill="#555"/>
<rect x="256" y="4" width="1" height="12" fill="#0a8a0a" shape-rendering="crispEdges"/>
<rect x="254.5" y="6.5" width="4" height="7" fill="#4fe070" stroke="#0a9a0a" stroke-width="1"/>
<g shape-rendering="crispEdges" fill="#555">
<rect x="278" y="7" width="1" height="13"/>
<rect x="276" y="17" width="13" height="1"/>
</g>
<path d="M278.5 6 L276.8 8.5 L280.2 8.5 Z" fill="#555"/>
<path d="M290 17.5 L287.5 15.8 L287.5 19.2 Z" fill="#555"/>
<path d="M277 14.6 C280 13 281.5 9.2 283.2 9.4 C285 9.6 286.5 12.5 288.7 13" fill="none" stroke="#2a9a2a" stroke-width="1.3"/>
<path d="M318 14.4 L323 19.2" stroke="#9a7a18" stroke-width="4" stroke-linecap="butt"/>
<path d="M318.3 14.6 L322.6 18.8" stroke="#f0d652" stroke-width="2.2"/>
<circle cx="314" cy="10" r="5.6" fill="#d9f0fb" stroke="#3c82c8" stroke-width="1.2"/>
<rect x="311" y="9.2" width="6" height="1.8" fill="#3f86b8"/>
<rect x="313.1" y="7" width="1.8" height="6" fill="#3f86b8"/>
<path d="M346 14.4 L351 19.2" stroke="#9a7a18" stroke-width="4" stroke-linecap="butt"/>
<path d="M346.3 14.6 L350.6 18.8" stroke="#f0d652" stroke-width="2.2"/>
<circle cx="342" cy="10" r="5.6" fill="#d9f0fb" stroke="#3c82c8" stroke-width="1.2"/>
<rect x="339" y="9.2" width="6" height="1.8" fill="#3f86b8"/>
<rect x="364" y="4" width="8" height="8" fill="#3fa51f" shape-rendering="crispEdges"/>
<rect x="365" y="7" width="6" height="4" fill="#fff" shape-rendering="crispEdges"/>
<rect x="366" y="8" width="4" height="1" fill="#3fa51f" opacity="0.55" shape-rendering="crispEdges"/>
<rect x="366" y="10" width="4" height="1" fill="#3fa51f" shape-rendering="crispEdges"/>
<rect x="372" y="4" width="8" height="8" fill="#2a5fd8" shape-rendering="crispEdges"/>
<rect x="373" y="7" width="6" height="4" fill="#fff" shape-rendering="crispEdges"/>
<rect x="374" y="8" width="4" height="1" fill="#2a5fd8" opacity="0.55" shape-rendering="crispEdges"/>
<rect x="374" y="10" width="4" height="1" fill="#2a5fd8" shape-rendering="crispEdges"/>
<rect x="364" y="12" width="8" height="8" fill="#2a5fd8" shape-rendering="crispEdges"/>
<rect x="365" y="15" width="6" height="4" fill="#fff" shape-rendering="crispEdges"/>
<rect x="366" y="16" width="4" height="1" fill="#2a5fd8" opacity="0.55" shape-rendering="crispEdges"/>
<rect x="366" y="18" width="4" height="1" fill="#2a5fd8" shape-rendering="crispEdges"/>
<rect x="372" y="12" width="8" height="8" fill="#3fa51f" shape-rendering="crispEdges"/>
<rect x="373" y="15" width="6" height="4" fill="#fff" shape-rendering="crispEdges"/>
<rect x="374" y="16" width="4" height="1" fill="#3fa51f" opacity="0.55" shape-rendering="crispEdges"/>
<rect x="374" y="18" width="4" height="1" fill="#3fa51f" shape-rendering="crispEdges"/>
<g shape-rendering="crispEdges" fill="#555">
<rect x="402" y="7" width="1" height="13"/>
<rect x="400" y="17" width="13" height="1"/>
</g>
<path d="M402.5 6 L400.8 8.5 L404.2 8.5 Z" fill="#555"/>
<path d="M414 17.5 L411.5 15.8 L411.5 19.2 Z" fill="#555"/>
<path d="M407.3 8.3 L410.8 11.5 L407.3 14.7 Z" fill="#6fe07a" stroke="#16a016" stroke-width="1"/>
<g shape-rendering="crispEdges" fill="#555">
<rect x="430" y="7" width="1" height="13"/>
<rect x="428" y="17" width="13" height="1"/>
</g>
<path d="M430.5 6 L428.8 8.5 L432.2 8.5 Z" fill="#555"/>
<path d="M442 17.5 L439.5 15.8 L439.5 19.2 Z" fill="#555"/>
<rect x="436" y="6" width="1" height="10" fill="#1a6aa0" shape-rendering="crispEdges"/>
<path d="M437.4 11.5 L440 9.3 L439.6 11 L442 11 L442 12 L439.6 12 L440 13.7 Z" fill="#e04a00"/>
<path d="M461.5 4.5 L469.5 4.5 L472.5 7.5 L472.5 17.5 L461.5 17.5 Z" fill="#fdfdfd" stroke="#a8a8a8" stroke-width="1"/>
<path d="M469.5 4.5 L469.5 7.5 L472.5 7.5" fill="#e8e8e8" stroke="#a8a8a8" stroke-width="1"/>
<path d="M465 8 L463.7 8 L463.7 14.5 L465 14.5 M463.7 11 L465.3 11" fill="none" stroke="#6a5a3a" stroke-width="0.9"/>
<path d="M469.4 10.6 L472.8 10.6 L472.8 14.2 L476.5 14.2 L476.5 17.6 L472.8 17.6 L472.8 21.3 L469.4 21.3 L469.4 17.6 L465.7 17.6 L465.7 14.2 L469.4 14.2 Z" fill="#35d635" stroke="#12951a" stroke-width="1" stroke-linejoin="round"/>
<path d="M470.4 11.6 L471.6 11.6 L471.6 15.2 L475.4 15.2 L475.4 16.2 L466.8 16.2 L466.8 15.2 L470.4 15.2 Z" fill="#8ff08f" opacity="0.8"/>
<path d="M482.6 11 L488.4 11 L485.5 14.2 Z" fill="#000"/>
<path d="M521.6 11 L527.4 11 L524.5 14.2 Z" fill="#000"/>
<path d="M560.6 11 L566.4 11 L563.5 14.2 Z" fill="#000"/>
<path d="M866.6 11 L872.4 11 L869.5 14.2 Z" fill="#000"/>
<circle cx="507" cy="11.8" r="7" fill="#f4f6f8" stroke="#1a72d6" stroke-width="2.2"/>
<path d="M500.2 14.5 A7.4 7.4 0 0 0 513.8 14.5" fill="none" stroke="#0b4aa6" stroke-width="1.6"/>
<path d="M506.5 8 L506.8 12 L509.6 12.4" fill="none" stroke="#222" stroke-width="1.2"/>
<circle cx="507" cy="14.6" r="0.7" fill="#5aa0f0"/>
<rect x="538.5" y="5.5" width="15" height="13" fill="#fff" stroke="#3a7ed0" stroke-width="1"/>
<rect x="539" y="6" width="14" height="2" fill="#7fb4ee"/>
<rect x="539" y="13" width="14" height="1" fill="#3a7ed0"/>
<path d="M540.5 11.2 L542.5 11.2 L544 10 L545.5 9.4 L547 10.4 L549 10.4 L550.5 9.5 L552 9.3" fill="none" stroke="#a02818" stroke-width="1.2"/>
<path d="M541 16.3 L542.5 16 L543.5 15.3 L545 16.3 L546.5 16.3 L548.5 14.2 L550 14.6 L551.6 16.4" fill="none" stroke="#1a9a2a" stroke-width="1.2"/>
<path d="M590.2 5 L590.2 16 L592.8 13.9 L595 18.9 L596.9 18.1 L594.7 13.2 L598 12.6 Z" fill="#464646"/>
<g shape-rendering="crispEdges" fill="#464646">
<rect x="622" y="5" width="1" height="6"/><rect x="622" y="14" width="1" height="6"/>
<rect x="615" y="12" width="6" height="1"/><rect x="624" y="12" width="7" height="1"/><rect x="622" y="12" width="1" height="1" fill="#8a7a50"/>
<rect x="656" y="6" width="1" height="13"/>
<rect x="679" y="12" width="12" height="1"/>
</g>
<path d="M707 18.9 L718.9 6.7" stroke="#464646" stroke-width="1.2"/>
<g stroke="#3c3c3c" stroke-width="1.1" fill="none">
<path d="M732.8 13.6 L741.2 5.9"/><path d="M733.6 18.2 L746.8 6.4"/><path d="M737.8 18.9 L747.2 10.5"/>
<path d="M735.8 11.8 L735.3 18.2 M738.6 9.4 L738.1 15.8 M741.8 7 L741.3 13.4 M744.6 4.2 L744.8 11"/>
</g>
<text x="743.8" y="20.9" style="font-size:6.8px;font-weight:bold;fill:#333">E</text>
<g shape-rendering="crispEdges" fill="#464646">
<rect x="762" y="5" width="1" height="1"/>
<rect x="764" y="5" width="1" height="1"/>
<rect x="766" y="5" width="1" height="1"/>
<rect x="768" y="5" width="1" height="1"/>
<rect x="770" y="5" width="1" height="1"/>
<rect x="772" y="5" width="1" height="1"/>
<rect x="774" y="5" width="1" height="1"/>
<rect x="762" y="8" width="1" height="1"/>
<rect x="764" y="8" width="1" height="1"/>
<rect x="766" y="8" width="1" height="1"/>
<rect x="768" y="8" width="1" height="1"/>
<rect x="770" y="8" width="1" height="1"/>
<rect x="772" y="8" width="1" height="1"/>
<rect x="774" y="8" width="1" height="1"/>
<rect x="762" y="12" width="1" height="1"/>
<rect x="764" y="12" width="1" height="1"/>
<rect x="766" y="12" width="1" height="1"/>
<rect x="768" y="12" width="1" height="1"/>
<rect x="770" y="12" width="1" height="1"/>
<rect x="772" y="12" width="1" height="1"/>
<rect x="774" y="12" width="1" height="1"/>
<rect x="762" y="16" width="1" height="1"/>
<rect x="764" y="16" width="1" height="1"/>
<rect x="766" y="16" width="1" height="1"/>
<rect x="768" y="16" width="1" height="1"/>
<rect x="770" y="16" width="1" height="1"/>
</g>
<text x="771.6" y="20.9" style="font-size:6.8px;font-weight:bold;fill:#333">F</text>
<text x="792.3" y="17" style="font-size:12.6px;fill:#505050">A</text>
<rect x="819.5" y="6.5" width="11" height="12" fill="none" stroke="#505050" stroke-width="1" stroke-dasharray="1 1" shape-rendering="crispEdges"/>
<text x="820.6" y="17" style="font-size:11px;font-weight:bold;fill:#505050">T</text>
<path d="M849.6 6 L853.4 9.8 L849.6 11 L846 9.8 Z" fill="#505050"/>
<path d="M848 13.4 L850.3 15.6 L855 10" fill="none" stroke="#505050" stroke-width="1.3"/>
<path d="M856.6 19 L852.9 15.4 L856.6 14.2 L860.3 15.4 Z" fill="#505050"/>
<text class="tf" transform="translate(900 16) scale(0.93 1)" text-anchor="middle">M1</text>
<text class="tf" transform="translate(927.8 16) scale(0.93 1)" text-anchor="middle">M5</text>
<text class="tf" transform="translate(956.5 16) scale(0.93 1)" text-anchor="middle">M15</text>
<text class="tf" transform="translate(984.3 16) scale(0.93 1)" text-anchor="middle">M30</text>
<text class="tf" transform="translate(1012.3 16) scale(0.93 1)" text-anchor="middle">H1</text>
<text class="tf" transform="translate(1039.8 16) scale(0.93 1)" text-anchor="middle">H4</text>
<text class="tf" transform="translate(1068.3 16) scale(0.93 1)" text-anchor="middle">D1</text>
<text class="tf" transform="translate(1097 16) scale(0.93 1)" text-anchor="middle">W1</text>
<text class="tf" transform="translate(1124 16) scale(0.93 1)" text-anchor="middle">MN</text>
<circle cx="1609.7" cy="9.4" r="3.9" fill="#f6f8ff" stroke="#2a5bd0" stroke-width="1.4"/>
<path d="M1606.8 12.4 L1602.2 16.8" stroke="#2a5bd0" stroke-width="2.2" stroke-linecap="round"/>
<path d="M1631 9.5 C1627 9.5 1626 13 1627 15.5 C1627.6 17 1629 17.8 1630.5 18 L1629.6 20.2 L1632.2 18.2 L1636 18 C1638 17.6 1638.5 15 1638 13" fill="#dcdce6" stroke="#9a9aa2" stroke-width="0.8"/>
<circle cx="1640.5" cy="9.4" r="8.2" fill="#dd3a1a"/>
<path d="M1632.6 7.5 A8.2 8.2 0 0 1 1648.4 7.5 Z" fill="#e7552f" opacity="0.7"/>
<text x="1640.3" y="14.1" text-anchor="middle" style="font-family:'Liberation Serif',serif;font-size:14px;fill:#fff;stroke:#fff;stroke-width:.35px">1</text>
</g>
</svg>
</body></html>
